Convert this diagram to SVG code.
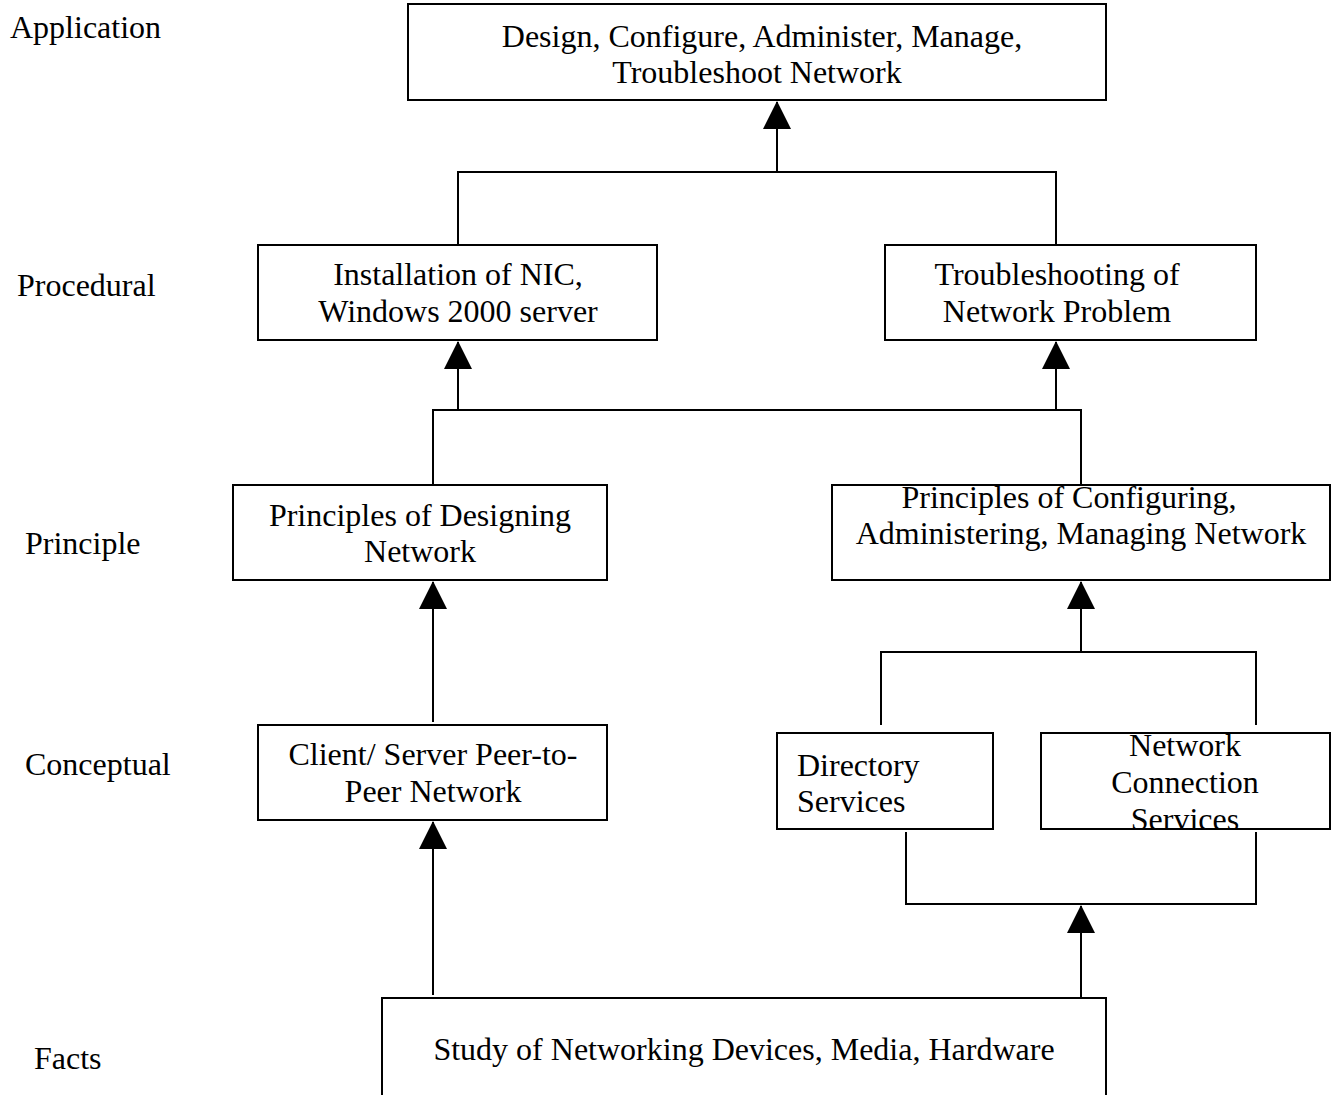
<svg xmlns="http://www.w3.org/2000/svg" width="1342" height="1095" viewBox="0 0 1342 1095">
<style>
.box{fill:#fff;stroke:#000;stroke-width:2}
.t{font-family:"Liberation Serif","Times New Roman",serif;font-size:32px;fill:#000}
.c{text-anchor:middle}
.ln{fill:none;stroke:#000;stroke-width:2}
</style>
<defs>
<marker id="ah" markerUnits="userSpaceOnUse" markerWidth="28" markerHeight="28" refX="27" refY="14" orient="auto" viewBox="0 0 28 28">
<path d="M0,0 L28,14 L0,28 Z" fill="#000"/>
</marker>
</defs>
<g id="labels">
<text class="t" x="10" y="38">Application</text>
<text class="t" x="17" y="296">Procedural</text>
<text class="t" x="25" y="554">Principle</text>
<text class="t" x="25" y="775">Conceptual</text>
<text class="t" x="34" y="1069">Facts</text>
</g>
<g id="connectors">
<path class="ln" d="M458,245 V172 H1056 V245"/>
<path class="ln" d="M777,172 V102" marker-end="url(#ah)"/>
<path class="ln" d="M433,485 V410 H1081 V485"/>
<path class="ln" d="M458,410 V342" marker-end="url(#ah)"/>
<path class="ln" d="M1056,410 V342" marker-end="url(#ah)"/>
<path class="ln" d="M433,722 V582" marker-end="url(#ah)"/>
<path class="ln" d="M881,725 V652 H1256 V725"/>
<path class="ln" d="M1081,652 V582" marker-end="url(#ah)"/>
<path class="ln" d="M433,995 V822" marker-end="url(#ah)"/>
<path class="ln" d="M906,832 V904 H1256 V832"/>
<path class="ln" d="M1081,997 V906" marker-end="url(#ah)"/>
</g>
<g id="n-application">
<rect class="box" x="408" y="4" width="698" height="96"/>
<text class="t c" x="762" y="47">Design, Configure, Administer, Manage,</text>
<text class="t c" x="757" y="83">Troubleshoot Network</text>
</g>
<g id="n-install">
<rect class="box" x="258" y="245" width="399" height="95"/>
<text class="t c" x="458" y="285">Installation of NIC,</text>
<text class="t c" x="458" y="322">Windows 2000 server</text>
</g>
<g id="n-trouble">
<rect class="box" x="885" y="245" width="371" height="95"/>
<text class="t c" x="1057" y="285">Troubleshooting of</text>
<text class="t c" x="1057" y="322">Network Problem</text>
</g>
<g id="n-design">
<rect class="box" x="233" y="485" width="374" height="95"/>
<text class="t c" x="420" y="526">Principles of Designing</text>
<text class="t c" x="420" y="562">Network</text>
</g>
<g id="n-config">
<rect class="box" x="832" y="485" width="498" height="95"/>
<text class="t c" x="1069" y="508">Principles of Configuring,</text>
<text class="t c" x="1081" y="544">Administering, Managing Network</text>
</g>
<g id="n-client">
<rect class="box" x="258" y="725" width="349" height="95"/>
<text class="t c" x="433" y="765">Client/ Server Peer-to-</text>
<text class="t c" x="433" y="802">Peer Network</text>
</g>
<g id="n-directory">
<rect class="box" x="777" y="733" width="216" height="96"/>
<text class="t" x="797" y="776">Directory</text>
<text class="t" x="797" y="812">Services</text>
</g>
<g id="n-netconn">
<rect class="box" x="1041" y="733" width="289" height="96"/>
<text class="t c" x="1185" y="756">Network</text>
<text class="t c" x="1185" y="793">Connection</text>
<text class="t c" x="1185" y="830">Services</text>
</g>
<g id="n-facts">
<rect class="box" x="382" y="998" width="724" height="110"/>
<text class="t c" x="744" y="1060">Study of Networking Devices, Media, Hardware</text>
</g>
</svg>
